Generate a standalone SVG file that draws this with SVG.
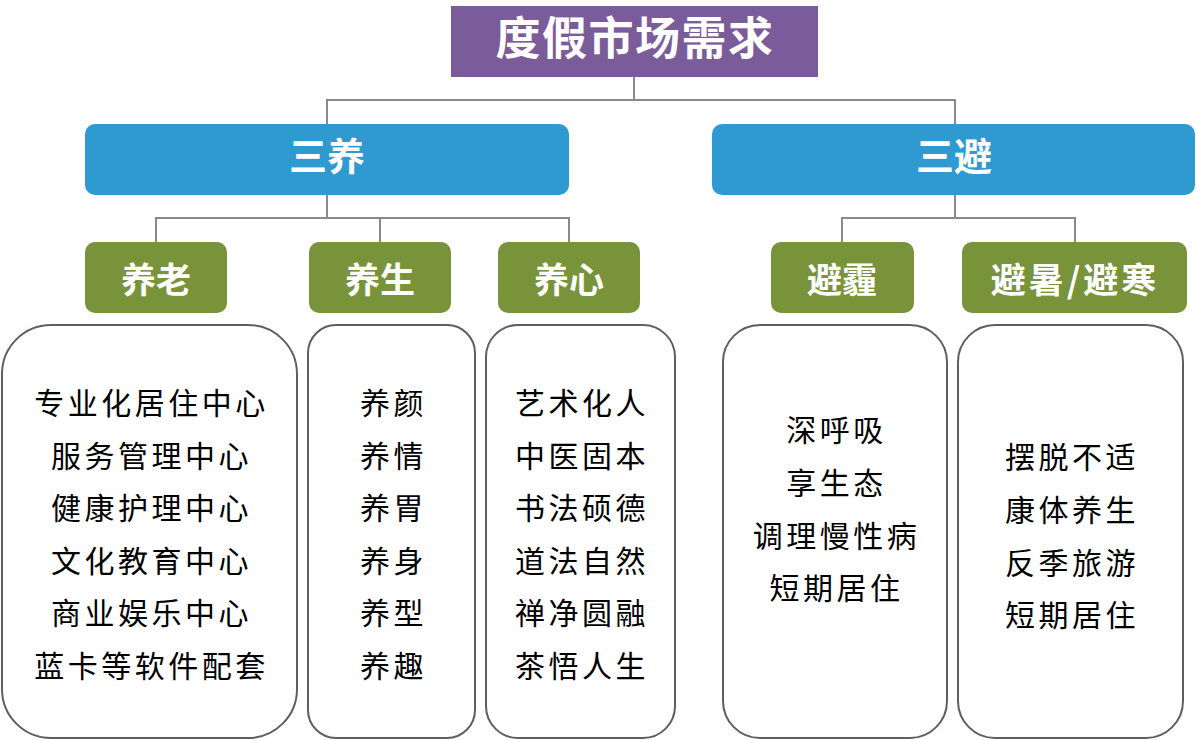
<svg xmlns="http://www.w3.org/2000/svg" width="1196" height="740" viewBox="0 0 1196 740">
<style>
.t{font-family:"Noto Sans CJK SC","Noto Sans",sans-serif;fill:#fff;font-weight:bold;text-anchor:middle}
.title{font-size:45px;letter-spacing:1.5px}
.l1{font-size:38px}
.l2{font-size:35px}
.l1box{fill:#2E9AD0}
.l2box{fill:#78933A}
.card{fill:#fff;stroke:#5f5f5f;stroke-width:2}
.b{font-family:"Noto Sans CJK SC","Noto Sans",sans-serif;font-size:30px;fill:#000;text-anchor:middle;letter-spacing:3.5px}
.conn{fill:none;stroke:#8a8a8a;stroke-width:2}
</style>
<rect width="1196" height="740" fill="#fff"/>
<g id="connectors" class="conn">
<path d="M634,77V100M327,124V100H955V124"/>
<path d="M327,195V218M156,242V218H569V242M380,218V242"/>
<path d="M955,195V218M842,242V218H1075V242"/>
</g>
<g id="root">
<rect x="451" y="6" width="367" height="71" fill="#7B5C9A"/>
<text class="t title" x="635" y="55">度假市场需求</text>
</g>
<g id="sanyang">
<rect class="l1box" x="85" y="124" width="484" height="71" rx="10"/>
<text class="t l1" x="327" y="170">三养</text>
</g>
<g id="sanbi">
<rect class="l1box" x="712" y="124" width="483" height="71" rx="10"/>
<text class="t l1" x="954" y="170">三避</text>
</g>
<g id="yanglao">
<rect class="l2box" x="85" y="242" width="142" height="71" rx="10"/>
<text class="t l2" x="156" y="293">养老</text>
</g>
<g id="yangsheng">
<rect class="l2box" x="309" y="242" width="142" height="71" rx="10"/>
<text class="t l2" x="380" y="293">养生</text>
</g>
<g id="yangxin">
<rect class="l2box" x="498" y="242" width="142" height="71" rx="10"/>
<text class="t l2" x="569" y="293">养心</text>
</g>
<g id="bimai">
<rect class="l2box" x="771" y="242" width="143" height="71" rx="10"/>
<text class="t l2" x="842" y="293">避霾</text>
</g>
<g id="bishu">
<rect class="l2box" x="962" y="242" width="225" height="71" rx="10"/>
<text class="t l2" x="1075" y="293" letter-spacing="3">避暑/避寒</text>
</g>
<g id="card-yanglao">
<rect class="card" x="2" y="325" width="295" height="413" rx="49"/>
<text class="b" x="151.5" y="414">专业化居住中心</text>
<text class="b" x="151.5" y="466.5">服务管理中心</text>
<text class="b" x="151.5" y="519">健康护理中心</text>
<text class="b" x="151.5" y="571.5">文化教育中心</text>
<text class="b" x="151.5" y="624">商业娱乐中心</text>
<text class="b" x="151.5" y="676.5">蓝卡等软件配套</text>
</g>
<g id="card-yangsheng">
<rect class="card" x="308" y="325" width="167" height="413" rx="28"/>
<text class="b" x="393.5" y="414">养颜</text>
<text class="b" x="393.5" y="466.5">养情</text>
<text class="b" x="393.5" y="519">养胃</text>
<text class="b" x="393.5" y="571.5">养身</text>
<text class="b" x="393.5" y="624">养型</text>
<text class="b" x="393.5" y="676.5">养趣</text>
</g>
<g id="card-yangxin">
<rect class="card" x="486" y="325" width="189" height="413" rx="32"/>
<text class="b" x="582" y="414">艺术化人</text>
<text class="b" x="582" y="466.5">中医固本</text>
<text class="b" x="582" y="519">书法硕德</text>
<text class="b" x="582" y="571.5">道法自然</text>
<text class="b" x="582" y="624">禅净圆融</text>
<text class="b" x="582" y="676.5">茶悟人生</text>
</g>
<g id="card-bimai">
<rect class="card" x="723" y="325" width="224" height="413" rx="37"/>
<text class="b" x="836.5" y="441">深呼吸</text>
<text class="b" x="836.5" y="494">享生态</text>
<text class="b" x="836.5" y="547">调理慢性病</text>
<text class="b" x="836.5" y="599">短期居住</text>
</g>
<g id="card-bishu">
<rect class="card" x="958" y="325" width="225" height="413" rx="37"/>
<text class="b" x="1072" y="468">摆脱不适</text>
<text class="b" x="1072" y="521">康体养生</text>
<text class="b" x="1072" y="574">反季旅游</text>
<text class="b" x="1072" y="626">短期居住</text>
</g>
</svg>
